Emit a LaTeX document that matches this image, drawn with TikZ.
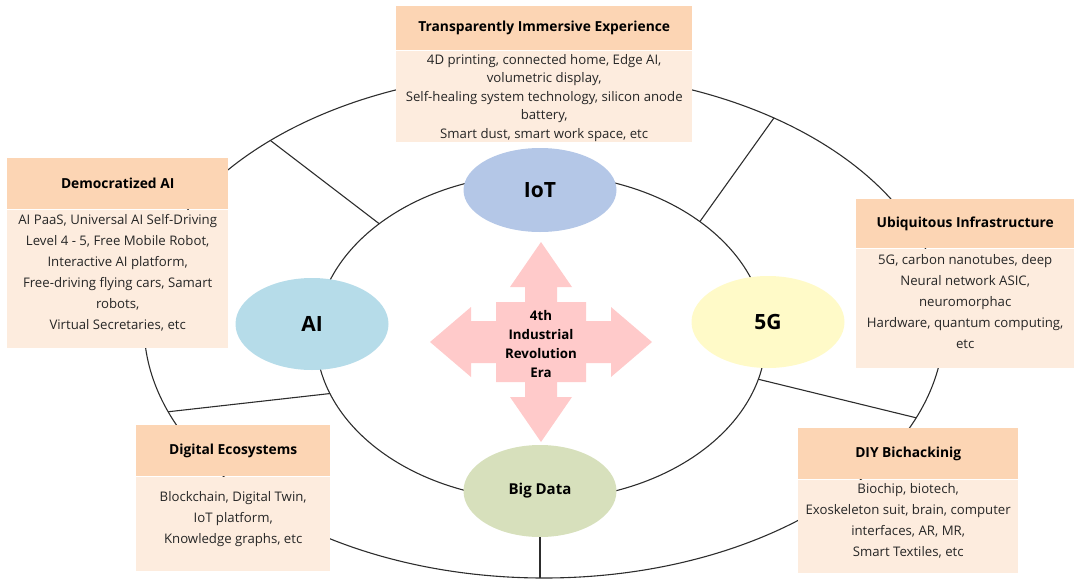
\documentclass[tikz,border=0pt]{standalone}
\usepackage{fontspec}
\setmainfont{Open Sans}
\usepackage{tikz}
\usetikzlibrary{shapes.geometric,positioning}

\definecolor{headfill}{RGB}{252,213,180}
\definecolor{bodyfill}{RGB}{253,236,222}
\definecolor{iotfill}{RGB}{180,199,231}
\definecolor{aifill}{RGB}{182,220,233}
\definecolor{fivegfill}{RGB}{255,250,200}
\definecolor{datafill}{RGB}{215,224,188}
\definecolor{erafill}{RGB}{255,202,202}
\definecolor{ringline}{RGB}{45,45,45}
\definecolor{bodytext}{RGB}{38,38,38}

\tikzstyle{ring}=[draw=ringline,line width=1.1pt,ellipse,inner sep=0pt,outer sep=0pt]
\tikzstyle{spoke}=[draw=ringline,line width=1.1pt]
\tikzstyle{hub}=[ellipse,inner sep=0pt,outer sep=0pt,minimum width=153pt,minimum height=92pt,font=\bfseries\fontsize{21}{24}\selectfont]
\tikzstyle{headbox}=[fill=headfill,inner sep=0pt,anchor=north west,font=\bfseries\fontsize{13.8}{16}\selectfont]
\tikzstyle{bodybox}=[fill=bodyfill,inner sep=0pt,align=center,text=bodytext,text depth=13pt,font=\fontsize{13.2}{21}\selectfont]

\begin{document}
\begin{tikzpicture}[x=1pt,y=-1pt]
    \useasboundingbox (0,0) rectangle (1074,579);

    % the two rings
    \node [ring,minimum width=800pt,minimum height=506pt] (outer) at (544,325) {};
    \node [ring,minimum width=450pt,minimum height=326pt] (inner) at (541,337) {};

    % spokes between the rings
    \draw [spoke] (inner.145) -- (outer.146);
    \draw [spoke] (inner.36) -- (outer.42);
    \draw [spoke] (inner.195) -- (outer.193);
    \draw [spoke] (inner.349) -- (outer.346);

    % technologies on the inner ring
    \node [hub,fill=iotfill,minimum height=84pt] (iot) at (540,190) {IoT};
    \node [hub,fill=aifill] (ai) at (312,324) {AI};
    \node [hub,fill=fivegfill] (fiveg) at (768,322) {5G};
    \node [hub,fill=datafill,font=\bfseries\fontsize{15}{18}\selectfont] (data) at (540,491) {Big Data};
    \draw [spoke] (data.south) -- (data.south |- outer.south);

    % four-way arrow in the middle
    \begin{scope}[shift={(541,342)}]
      \fill [erafill] (0,-100) -- (31,-55) -- (16,-55) -- (16,-40) -- (45,-40) -- (45,-21)
        -- (70,-21) -- (70,-35) -- (111,0) -- (70,35) -- (70,21) -- (45,21) -- (45,40)
        -- (16,40) -- (16,55) -- (31,55) -- (0,100) -- (-31,55) -- (-16,55) -- (-16,40)
        -- (-45,40) -- (-45,21) -- (-70,21) -- (-70,35) -- (-111,0) -- (-70,-35)
        -- (-70,-21) -- (-45,-21) -- (-45,-40) -- (-16,-40) -- (-16,-55) -- (-31,-55) -- cycle;
    \end{scope}
    \node [align=center,font=\bfseries\fontsize{13.3}{19}\selectfont] (era) at (541,344)
      {4th\\Industrial\\Revolution\\Era};

    % trend boxes
    \node [headbox,minimum width=296pt,minimum height=44pt] (tiehead) at (396,6)
      {Transparently Immersive Experience};
    \node [bodybox,minimum width=296pt,minimum height=91pt,below=0pt of tiehead,
      text depth=0pt,font=\fontsize{13.2}{18.5}\selectfont] (tiebody)
      {4D printing, connected home, Edge AI,\\volumetric display,\\Self-healing system technology, silicon anode\\battery,\\Smart dust, smart work space, etc};

    \node [headbox,minimum width=221pt,minimum height=51pt] (daihead) at (7,158)
      {Democratized AI};
    \node [bodybox,minimum width=221pt,minimum height=138pt,below=0pt of daihead] (daibody)
      {AI PaaS, Universal AI Self-Driving\\Level 4 - 5, Free Mobile Robot,\\Interactive AI platform,\\Free-driving flying cars, Samart\\robots,\\Virtual Secretaries, etc};

    \node [headbox,minimum width=218pt,minimum height=49pt] (ubihead) at (856,199)
      {Ubiquitous Infrastructure};
    \node [bodybox,minimum width=218pt,minimum height=119pt,below=0pt of ubihead] (ubibody)
      {5G, carbon nanotubes, deep\\Neural network ASIC,\\neuromorphac\\Hardware, quantum computing,\\etc};

    \node [headbox,minimum width=194pt,minimum height=51pt] (dighead) at (136,425)
      {Digital Ecosystems};
    \node [bodybox,minimum width=194pt,minimum height=94pt,below=0pt of dighead] (digbody)
      {Blockchain, Digital Twin,\\IoT platform,\\Knowledge graphs, etc};

    \node [headbox,minimum width=220pt,minimum height=51pt] (diyhead) at (798,428)
      {DIY Bichackinig};
    \node [bodybox,minimum width=220pt,minimum height=93pt,below=0pt of diyhead] (diybody)
      {Biochip, biotech,\\Exoskeleton suit, brain, computer\\interfaces, AR, MR,\\Smart Textiles, etc};
\end{tikzpicture}
\end{document}
